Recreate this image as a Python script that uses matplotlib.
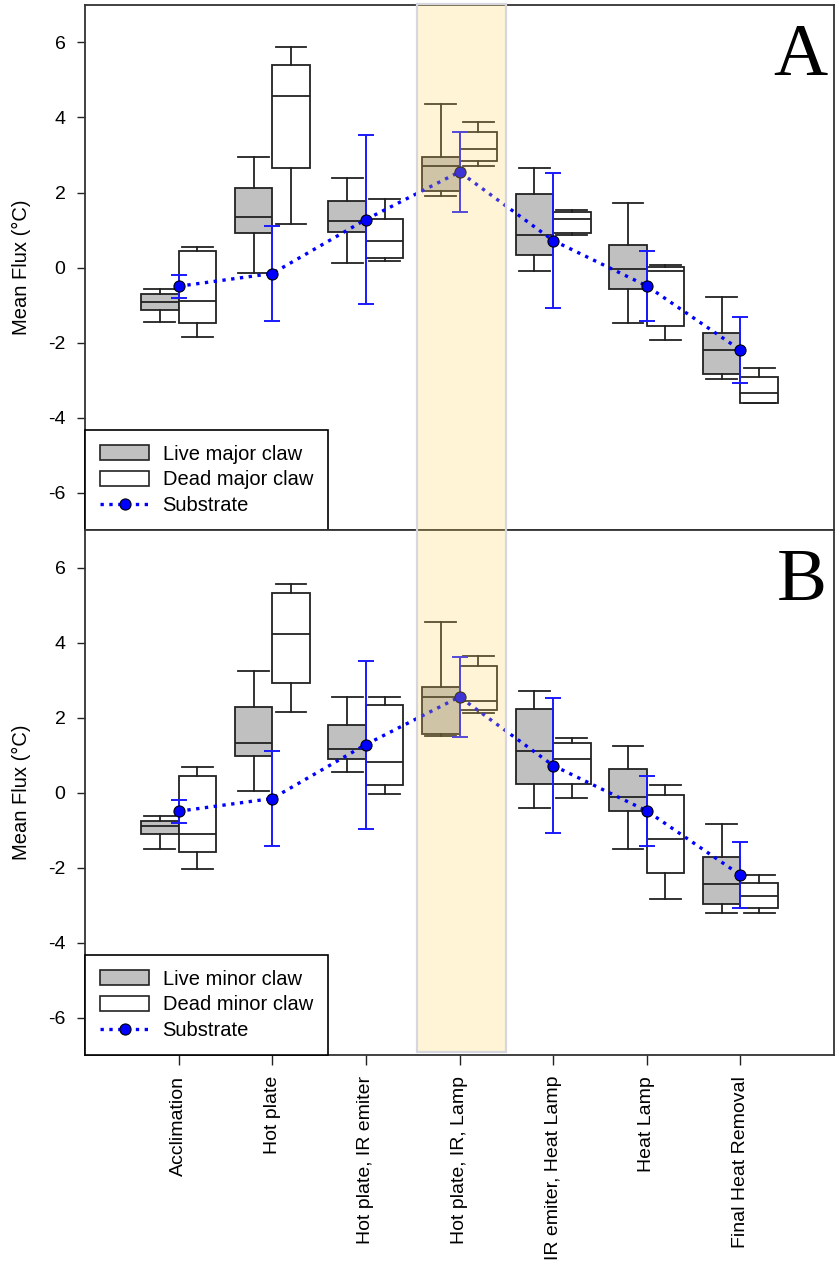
import matplotlib
matplotlib.use("Agg")
import matplotlib.pyplot as plt
from matplotlib.patches import Patch, Rectangle
from matplotlib.lines import Line2D
from matplotlib.transforms import blended_transform_factory

plt.rcParams['font.family'] = ['Liberation Sans', 'DejaVu Sans']

categories = ['Acclimation', 'Hot plate', 'Hot plate, IR emiter',
              'Hot plate, IR, Lamp', 'IR emiter, Heat Lamp', 'Heat Lamp',
              'Final Heat Removal']

# each row: [whisker low, Q1, median, Q3, whisker high]
live_major = [[-1.44, -1.14, -0.92, -0.71, -0.57],
              [-0.14, 0.91, 1.34, 2.12, 2.96],
              [0.12, 0.95, 1.25, 1.78, 2.38],
              [1.91, 2.03, 2.70, 2.96, 4.35],
              [-0.09, 0.34, 0.86, 1.96, 2.65],
              [-1.48, -0.57, -0.04, 0.60, 1.73],
              [-2.96, -2.84, -2.19, -1.74, -0.79]]
dead_major = [[-1.84, -1.48, -0.89, 0.43, 0.55],
              [1.17, 2.65, 4.57, 5.39, 5.87],
              [0.17, 0.25, 0.70, 1.30, 1.82],
              [2.70, 2.85, 3.17, 3.61, 3.87],
              [0.88, 0.92, 1.30, 1.47, 1.53],
              [-1.92, -1.57, -0.10, 0.01, 0.08],
              [-3.62, -3.62, -3.35, -2.92, -2.67]]
live_minor = [[-1.50, -1.10, -0.89, -0.76, -0.63],
              [0.03, 0.98, 1.33, 2.28, 3.24],
              [0.54, 0.89, 1.16, 1.80, 2.55],
              [1.50, 1.55, 2.56, 2.81, 4.56],
              [-0.41, 0.23, 1.10, 2.23, 2.72],
              [-1.50, -0.50, -0.11, 0.63, 1.24],
              [-3.20, -2.98, -2.43, -1.72, -0.84]]
dead_minor = [[-2.03, -1.59, -1.11, 0.45, 0.67],
              [2.15, 2.93, 4.23, 5.32, 5.56],
              [-0.03, 0.20, 0.81, 2.33, 2.55],
              [2.12, 2.20, 2.45, 3.37, 3.63],
              [-0.15, 0.23, 0.90, 1.33, 1.46],
              [-2.85, -2.15, -1.24, -0.06, 0.20],
              [-3.20, -3.07, -2.76, -2.42, -2.20]]

substrate_mean = [-0.50, -0.16, 1.28, 2.55, 0.72, -0.49, -2.20]
substrate_sd = [0.30, 1.26, 2.24, 1.07, 1.80, 0.93, 0.89]

yticks = [-6, -4, -2, 0, 2, 4, 6]

LIVE = '#C0C0C0'
EDGE = '#222222'
BLUE = '#0000FF'
ERRBLUE = '#1a1aff'
FS = 14

W, H = 836, 1272
fig = plt.figure(figsize=(W / 100, H / 100), dpi=100)
left = 85 / W
width = 749 / W
axA = fig.add_axes([left, 1 - 530 / H, width, 525 / H])
axB = fig.add_axes([left, 1 - 1055 / H, width, 525 / H])

positions = list(range(1, len(categories) + 1))


def to_stats(rows):
    return [dict(whislo=r[0], q1=r[1], med=r[2], q3=r[3], whishi=r[4], fliers=[])
            for r in rows]


def draw_panel(ax, live, dead, live_label, dead_label, letter):
    lw = 1.3
    common = dict(widths=0.4, capwidths=0.33, patch_artist=True, showfliers=False,
                  medianprops=dict(color=EDGE, lw=lw),
                  whiskerprops=dict(color=EDGE, lw=lw),
                  capprops=dict(color=EDGE, lw=lw), manage_ticks=False)
    ax.bxp(to_stats(live), positions=[p - 0.2 for p in positions],
           boxprops=dict(facecolor=LIVE, edgecolor=EDGE, lw=lw), **common)
    ax.bxp(to_stats(dead), positions=[p + 0.2 for p in positions],
           boxprops=dict(facecolor='white', edgecolor=EDGE, lw=lw), **common)

    ax.errorbar(positions, substrate_mean, yerr=substrate_sd, fmt='none',
                ecolor=ERRBLUE, elinewidth=1.4, capsize=5.6, capthick=1.4, zorder=4)
    ax.plot(positions, substrate_mean, color=BLUE, ls=':', lw=2.4,
            marker='o', ms=8, mfc=BLUE, mec='black', mew=0.8, zorder=5)

    ax.set_xlim(0, 8)
    ax.set_ylim(-7, 7)
    ax.set_yticks(yticks)
    ax.set_yticklabels([str(t) for t in yticks])
    ax.tick_params(axis='y', direction='out', length=6, width=1, pad=8,
                   labelsize=FS, color=EDGE)
    ax.set_ylabel('Mean Flux (°C)', fontsize=FS + 0.5)
    ax.yaxis.set_label_coords(-0.072, 0.5)
    for s in ax.spines.values():
        s.set_linewidth(1.3)
        s.set_color('#333333')

    handles = [Patch(facecolor=LIVE, edgecolor=EDGE, lw=1.2),
               Patch(facecolor='white', edgecolor=EDGE, lw=1.2),
               Line2D([], [], color=BLUE, ls=':', lw=2.4, marker='o', ms=8,
                      mfc=BLUE, mec='black', mew=0.8)]
    leg = ax.legend(handles, [live_label, dead_label, 'Substrate'],
                    loc='lower left', bbox_to_anchor=(0, 0), borderaxespad=0,
                    fancybox=False, framealpha=1, edgecolor='black',
                    fontsize=FS + 0.5,
                    handlelength=2.45, handleheight=0.8, labelspacing=0.33,
                    borderpad=0.75, handletextpad=0.65, numpoints=1)
    leg.get_frame().set_linewidth(1.2)
    leg.set_zorder(6)

    ax.text(0.991, 0.965, letter, transform=ax.transAxes, ha='right', va='top',
            fontsize=54, family='Liberation Serif')


draw_panel(axA, live_major, dead_major, 'Live major claw', 'Dead major claw', 'A')
draw_panel(axB, live_minor, dead_minor, 'Live minor claw', 'Dead minor claw', 'B')

axA.set_xticks([])
axB.set_xticks(positions)
axB.set_xticklabels(categories, rotation=90, ha='center', va='top', fontsize=FS)
axB.tick_params(axis='x', direction='out', length=7, width=1, pad=8, color=EDGE)

# highlighted treatment spanning both panels
trans = blended_transform_factory(axB.transData, fig.transFigure)
y0 = 1 - 1052 / H
y1 = 1 - 4 / H
shade = Rectangle((3.55, y0), 0.95, y1 - y0, transform=trans,
                  facecolor=(1.0, 0.84, 0.36, 0.25), edgecolor='#d6d6de',
                  lw=1.6, zorder=10)
fig.add_artist(shade)

fig.savefig('out.png', dpi=100)
